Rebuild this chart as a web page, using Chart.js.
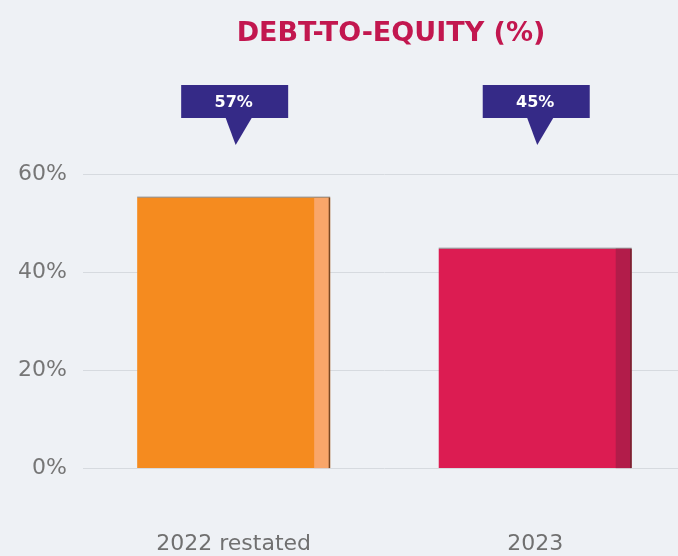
<!DOCTYPE html>
<html>
<head>
<meta charset="utf-8">
<script src="https://cdn.jsdelivr.net/npm/chart.js@4"></script>
<style>
  html, body { margin: 0; padding: 0; overflow: hidden; background: #eef1f5; }
  #wrap { width: 686px; height: 556px; }
</style>
</head>
<body>
<div id="wrap"><canvas id="chart" width="686" height="556"></canvas></div>
<script>
const categories = ['2022 restated', '2023'];
const debtToEquity = [55.2, 44.8];
const calloutLabels = ['57%', '45%'];
const yTicks = [0, 20, 40, 60];

const barColors = ['#f58b1f', '#dc1c52'];
const sideColors = ['#f9a66a', '#b21c4a'];

// title, callouts and the side strip on each bar
const decorations = {
  id: 'decorations',
  afterDatasetsDraw(chart) {
    const ctx = chart.ctx;
    const meta = chart.getDatasetMeta(0);
    ctx.save();
    meta.data.forEach((bar, i) => {
      const right = bar.x + bar.width / 2;
      const top = bar.y;
      const bottom = bar.base;
      ctx.fillStyle = sideColors[i];
      ctx.fillRect(right - 16, top, 15, bottom - top);
      ctx.fillStyle = 'rgba(70,40,30,0.7)';
      ctx.fillRect(right - 1.5, top, 1.5, bottom - top);
      ctx.fillStyle = 'rgba(90,90,90,0.55)';
      ctx.fillRect(bar.x - bar.width / 2, top - 1, bar.width, 1.2);

      // callout
      const cx = bar.x + 2;
      const boxTop = 85, boxH = 33, boxW = 107;
      ctx.fillStyle = '#352a87';
      ctx.fillRect(cx - boxW / 2 - 1, boxTop, boxW, boxH);
      ctx.beginPath();
      ctx.moveTo(cx - 10, boxTop + boxH);
      ctx.lineTo(cx + 16, boxTop + boxH);
      ctx.lineTo(cx, 145);
      ctx.closePath();
      ctx.fill();
      ctx.fillStyle = '#ffffff';
      ctx.font = 'bold 16px "DejaVu Sans", sans-serif';
      ctx.textAlign = 'center';
      ctx.textBaseline = 'middle';
      ctx.fillText(calloutLabels[i], cx - 2, boxTop + boxH / 2 + 1);
    });
    ctx.fillStyle = '#c2174f';
    ctx.font = 'bold 27px "DejaVu Sans", sans-serif';
    ctx.textAlign = 'center';
    ctx.textBaseline = 'middle';
    ctx.fillText('DEBT-TO-EQUITY (%)', 391, 34);
    ctx.restore();
  }
};

new Chart(document.getElementById('chart'), {
  type: 'bar',
  data: {
    labels: categories,
    datasets: [{
      data: debtToEquity,
      backgroundColor: barColors,
      borderWidth: 0,
      barPercentage: 0.8,
      categoryPercentage: 0.8
    }]
  },
  options: {
    responsive: false,
    animation: false,
    layout: { padding: { top: 174, right: 0, bottom: -55, left: 2 } },
    plugins: {
      legend: { display: false },
      tooltip: { enabled: false }
    },
    scales: {
      x: {
        grid: { display: false },
        border: { display: false },
        ticks: {
          color: '#707070',
          font: { family: '"DejaVu Sans", sans-serif', size: 22 },
          padding: 54
        }
      },
      y: {
        min: 0,
        max: 60,
        afterBuildTicks: axis => { axis.ticks = yTicks.map(v => ({ value: v })); },
        grid: { color: '#d6dadf', lineWidth: 1, drawTicks: false },
        border: { display: false },
        ticks: {
          color: '#767676',
          font: { family: '"DejaVu Sans", sans-serif', size: 22 },
          padding: 16,
          callback: v => v + '%'
        }
      }
    }
  },
  plugins: [decorations]
});
</script>
</body>
</html>
